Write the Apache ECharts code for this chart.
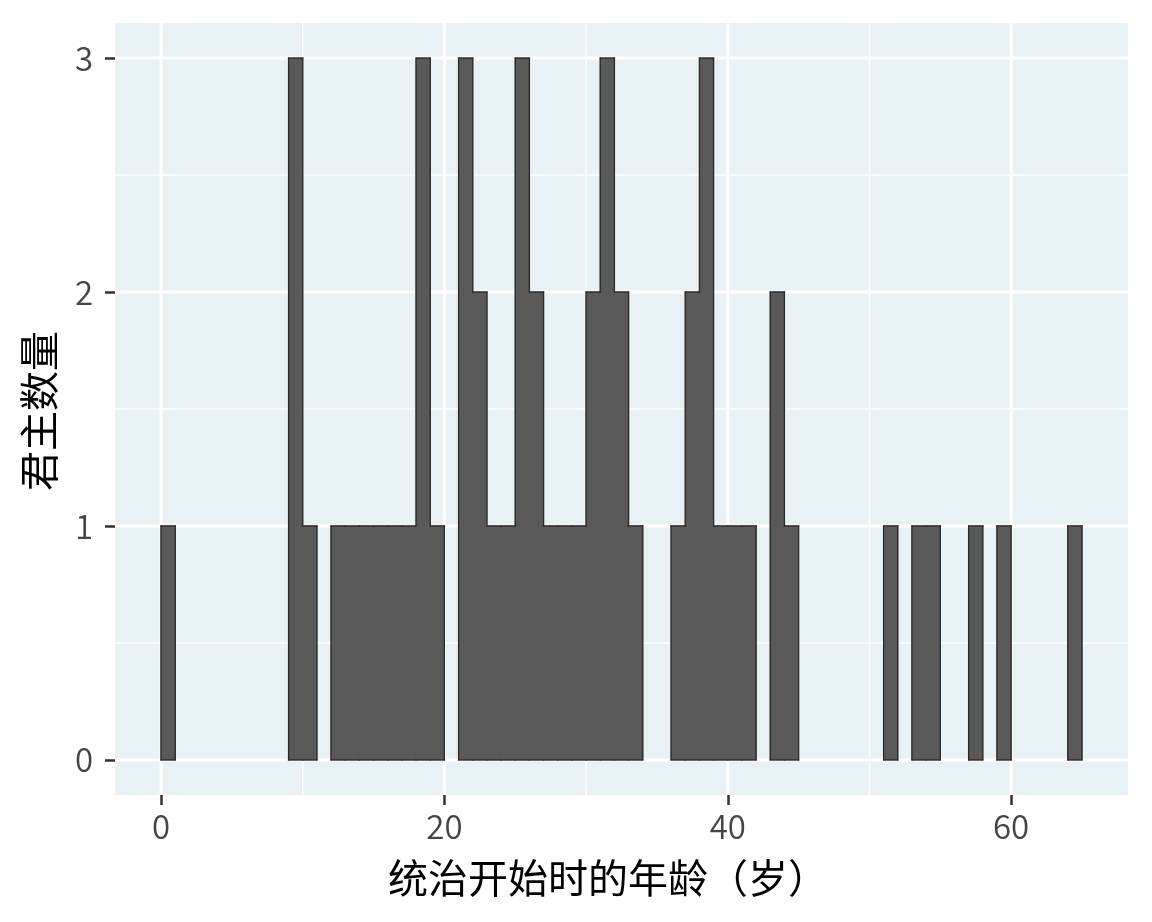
<!DOCTYPE html>
<html><head><meta charset="utf-8">
<script src="https://cdn.jsdelivr.net/npm/echarts@6/dist/echarts.min.js"></script>
<style>html,body{margin:0;padding:0;background:#fff}#c{width:1152px;height:922px}</style>
</head><body><div id="c"></div>
<script>
// Histogram bins (width 1 year): left edge of each non-empty bin and its count
const binLeft  = [0, 9, 10, 12, 13, 14, 15, 16, 17, 18, 19, 21, 22, 23, 24, 25, 26, 27, 28, 29, 30, 31, 32, 33, 36, 37, 38, 39, 40, 41, 43, 44, 51, 53, 54, 57, 59, 64];
const binCount = [1, 3, 1, 1, 1, 1, 1, 1, 1, 3, 1, 3, 2, 1, 1, 3, 2, 1, 1, 1, 2, 3, 2, 1, 1, 2, 3, 1, 1, 1, 2, 1, 1, 1, 1, 1, 1, 1];
const binWidth = 1;
const xTicks = [0, 20, 40, 60];
const xMinor = [10, 30, 50];
const yTicks = [0, 1, 2, 3];
const yMinor = [0.5, 1.5, 2.5];
const xTitle = '统治开始时的年龄（岁）';
const yTitle = '君主数量';

const xMin = -3.25, xMax = 68.25, yMin = -0.15, yMax = 3.15;
const FONT = '"Noto Sans CJK SC", "Noto Sans", sans-serif';
const BAR = '#595959';
const EDGE = '#2b2b2b';

const countAt = {};
binLeft.forEach((b, i) => { countAt[b] = binCount[i]; });
const barData = binLeft.map((b, i) => [b, b + binWidth, binCount[i]]);

function fillItem(params, api) {
  const p0 = api.coord([api.value(0), api.value(2)]);
  const p1 = api.coord([api.value(1), 0]);
  return { type: 'rect', shape: { x: p0[0], y: p0[1], width: p1[0] - p0[0], height: p1[1] - p0[1] },
           style: { fill: BAR, stroke: BAR, lineWidth: 1 } };
}
function edgeItem(params, api) {
  const x0 = api.value(0), x1 = api.value(1), c = api.value(2);
  const cl = countAt[x0 - binWidth] || 0, cr = countAt[x0 + binWidth] || 0;
  const segs = [[[x0, c], [x1, c]], [[x0, 0], [x1, 0]]];
  if (c > cl) segs.push([[x0, c], [x0, cl]]);
  if (c > cr) segs.push([[x1, c], [x1, cr]]);
  return { type: 'group', children: segs.map(s => {
    const a = api.coord(s[0]), b = api.coord(s[1]);
    return { type: 'line', shape: { x1: a[0], y1: a[1], x2: b[0], y2: b[1] }, style: { stroke: EDGE, lineWidth: 1.3, lineCap: 'square' } };
  }) };
}
function vLines(values, w) {
  return {
    type: 'custom', z: 1, silent: true, data: values.map(v => [v, 0]),
    encode: { x: 0, y: 1 },
    renderItem: (params, api) => {
      const cs = params.coordSys;
      const x = api.coord([api.value(0), 0])[0];
      return { type: 'line', shape: { x1: x, y1: cs.y, x2: x, y2: cs.y + cs.height }, style: { stroke: '#ffffff', lineWidth: w } };
    }
  };
}
function hLines(values, w) {
  return {
    type: 'custom', z: 1, silent: true, data: values.map(v => [0, v]),
    encode: { x: 0, y: 1 },
    renderItem: (params, api) => {
      const cs = params.coordSys;
      const y = api.coord([0, api.value(1)])[1];
      return { type: 'line', shape: { x1: cs.x, y1: y, x2: cs.x + cs.width, y2: y }, style: { stroke: '#ffffff', lineWidth: w } };
    }
  };
}

const chart = echarts.init(document.getElementById('c'), null, { renderer: 'canvas' });
chart.setOption({
  animation: false,
  backgroundColor: '#ffffff',
  grid: { left: 115, right: 24, top: 23, bottom: 127, show: true, backgroundColor: '#E8F1F5', borderWidth: 0 },
  xAxis: {
    type: 'value', min: xMin, max: xMax, position: 'bottom',
    axisLine: { show: false, onZero: false },
    axisTick: { show: true, customValues: xTicks, length: 10, lineStyle: { color: '#333333', width: 2.5 } },
    axisLabel: { show: true, customValues: xTicks, fontSize: 33, fontWeight: 350, color: '#444444', margin: 15, fontFamily: FONT },
    splitLine: { show: false }
  },
  yAxis: {
    type: 'value', min: yMin, max: yMax, position: 'left',
    axisLine: { show: false, onZero: false },
    axisTick: { show: true, customValues: yTicks, length: 10, lineStyle: { color: '#333333', width: 2.5 } },
    axisLabel: { show: true, customValues: yTicks, fontSize: 33, fontWeight: 350, color: '#444444', margin: 22, fontFamily: FONT },
    splitLine: { show: false }
  },
  graphic: [
    { type: 'text', x: 608, y: 878, silent: true,
      style: { text: xTitle, fontSize: 40, fill: '#000000', align: 'center', verticalAlign: 'middle', fontFamily: FONT } },
    { type: 'text', x: 39, y: 411, rotation: Math.PI / 2, silent: true,
      style: { text: yTitle, fontSize: 40, fill: '#000000', align: 'center', verticalAlign: 'middle', fontFamily: FONT } }
  ],
  series: [
    vLines(xMinor, 1.5), hLines(yMinor, 1.5),
    vLines(xTicks, 3), hLines(yTicks, 3),
    { type: 'custom', z: 2, silent: true, data: barData, encode: { x: [0, 1], y: 2 }, renderItem: fillItem },
    { type: 'custom', z: 3, silent: true, data: barData, encode: { x: [0, 1], y: 2 }, renderItem: edgeItem }
  ]
});
</script>
</body></html>
